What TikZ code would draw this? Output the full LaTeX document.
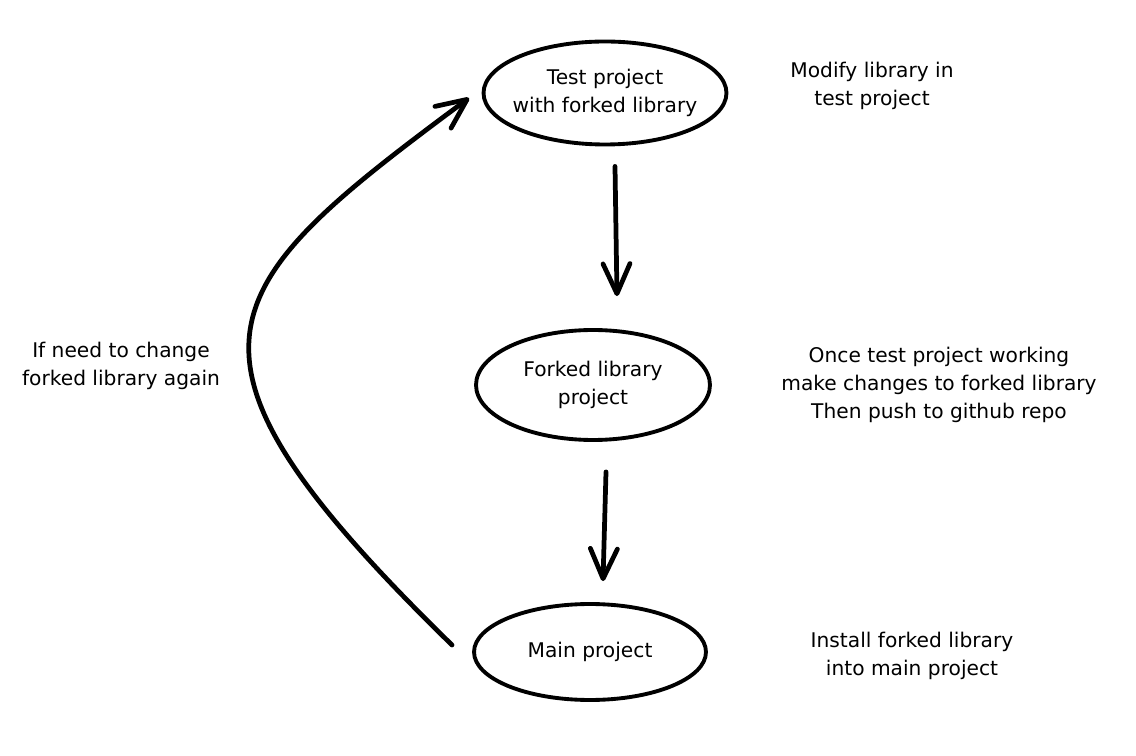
\documentclass[tikz,border=0pt]{standalone}
\usepackage{fontspec}
\setmainfont{DejaVu Sans}
\usetikzlibrary{shapes.geometric,arrows.meta}

\tikzset{
	stage/.style={ellipse, draw, line width=2.2pt, align=center, inner sep=-0.25cm,
		minimum width=4.8cm, minimum height=2.06cm, font=\fontsize{11.5}{16}\selectfont},
	note/.style={align=center, font=\fontsize{11.5}{16}\selectfont},
	flow/.style={line width=2.7pt, line cap=round,
		-{Straight Barb[length=0.6cm, width=0.54cm, line cap=round, line join=round]}},
}

\begin{document}
\begin{tikzpicture}[x=0.02cm, y=-0.02cm]
		\useasboundingbox (0,0) rectangle (1136,756);

		\node[stage, minimum width=4.86cm] (test) at (605,93) {Test project\\with forked library};
		\node[stage, minimum width=4.68cm, minimum height=2.2cm] (forked) at (593,385) {Forked library\\project};
		\node[stage, minimum width=4.64cm, minimum height=1.92cm] (main) at (590,652) {Main project};

		\node[note] (modify) at (872,86) {Modify library in\\test project};
		\node[note] (push) at (939,385) {Once test project working\\make changes to forked library\\Then push to github repo};
		\node[note] (install) at (912,656) {Install forked library\\into main project};
		\node[note] (again) at (121,366) {If need to change\\forked library again};

		\coordinate (loopstart) at (452,645);
		\coordinate (loopend) at (469,98);

		\draw[flow] ([xshift=0.2cm, yshift=-0.4cm]test.south) -- ([xshift=0.48cm, yshift=0.64cm]forked.north);
		\draw[flow] ([xshift=0.26cm, yshift=-0.6cm]forked.south) -- ([xshift=0.26cm, yshift=0.42cm]main.north);
		\draw[flow] (loopstart) .. controls (150,350) and (210,290) .. (loopend);
	\end{tikzpicture}
\end{document}
